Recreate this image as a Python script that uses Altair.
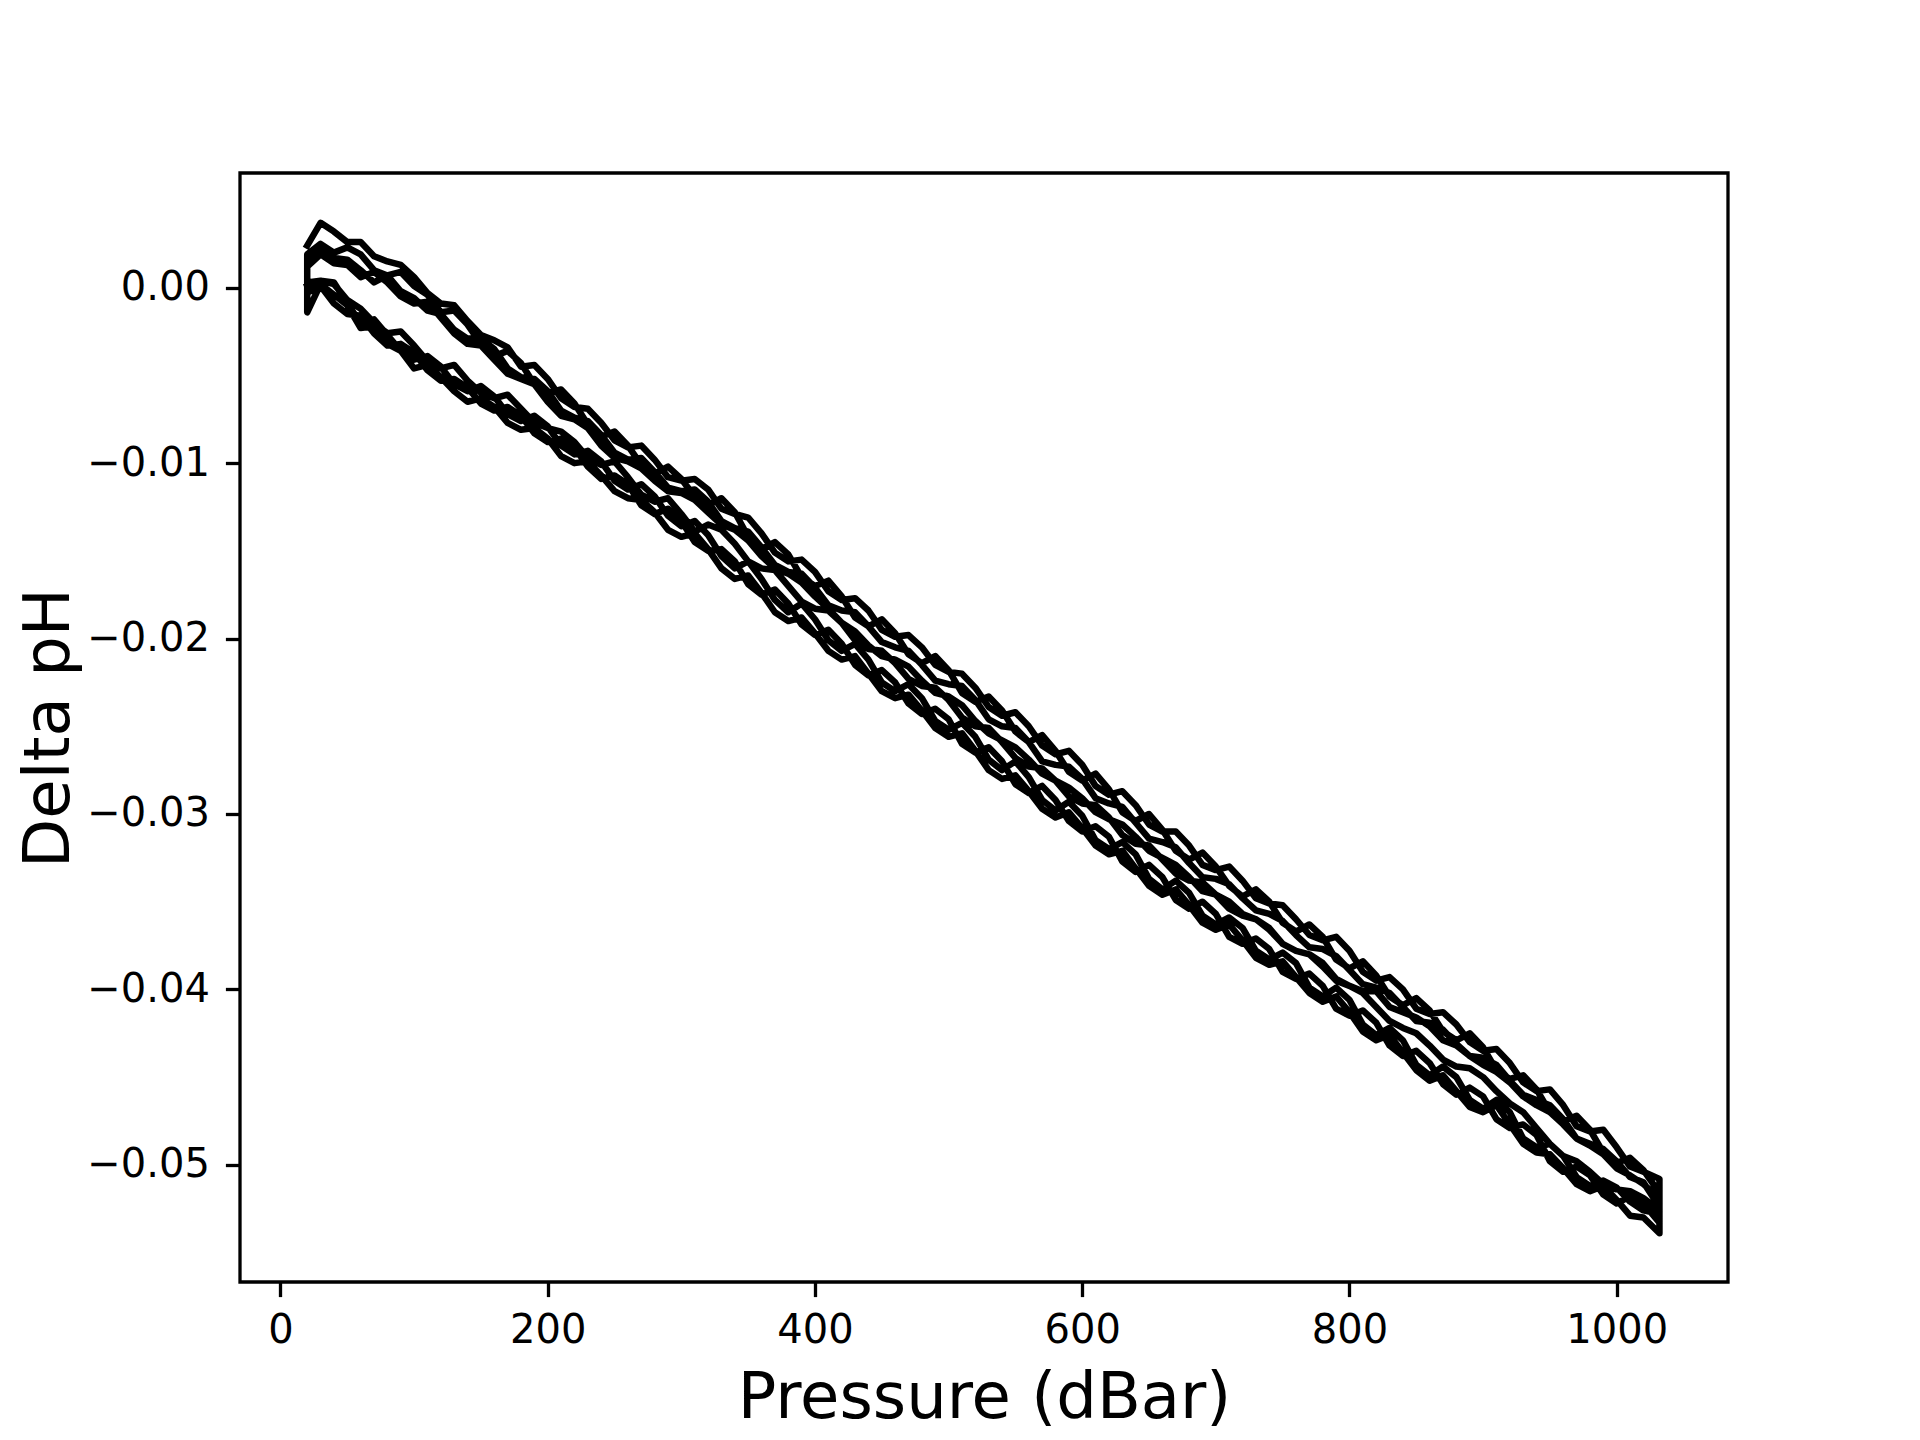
import altair as alt
import pandas as pd

# Pressure grid (dBar) shared by every cast
P_GRID = [20, 30, 40, 50, 60, 70, 80, 90, 100, 110,
          120, 130, 140, 150, 160, 170, 180, 190, 200, 210,
          220, 230, 240, 250, 260, 270, 280, 290, 300, 310,
          320, 330, 340, 350, 360, 370, 380, 390, 400, 410,
          420, 430, 440, 450, 460, 470, 480, 490, 500, 510,
          520, 530, 540, 550, 560, 570, 580, 590, 600, 610,
          620, 630, 640, 650, 660, 670, 680, 690, 700, 710,
          720, 730, 740, 750, 760, 770, 780, 790, 800, 810,
          820, 830, 840, 850, 860, 870, 880, 890, 900, 910,
          920, 930, 940, 950, 960, 970, 980, 990, 1000, 1010,
          1020, 1032]

# Delta pH in units of 0.001 pH (each list follows P_GRID)
DOWN_1 = [2.4, 3.7, 3.2, 2.6, 2.6, 1.8, 1.5, 1.3, 0.6, -0.3,
          -0.9, -1.0, -1.9, -2.7, -3.0, -3.4, -4.5, -4.4, -5.2, -6.3,
          -6.8, -6.9, -7.7, -8.7, -9.1, -9.0, -9.8, -10.8, -11.0, -10.9,
          -11.5, -12.6, -12.9, -13.1, -14.0, -15.1, -15.6, -15.5, -16.2, -17.3,
          -17.8, -17.7, -18.4, -19.5, -19.9, -19.8, -20.5, -21.5, -21.9, -22.0,
          -22.8, -23.9, -24.4, -24.2, -25.0, -26.1, -26.6, -26.4, -27.2, -28.4,
          -28.9, -28.7, -29.5, -30.6, -31.0, -31.0, -31.8, -32.9, -33.2, -33.0,
          -33.8, -34.8, -35.1, -35.2, -36.0, -36.9, -37.2, -37.0, -37.8, -39.0,
          -39.5, -39.3, -40.0, -41.1, -41.4, -41.3, -42.0, -43.0, -43.5, -43.4,
          -44.2, -45.3, -45.8, -45.7, -46.6, -47.8, -48.1, -48.0, -49.0, -50.1,
          -50.4, -50.8]
UP_1 = [-1.4, 0.2, -0.4, -1.0, -2.3, -2.2, -3.2, -3.6, -4.6, -4.4,
        -5.1, -5.9, -6.5, -6.3, -6.8, -7.7, -8.1, -8.0, -8.6, -9.6,
        -10.0, -9.9, -10.7, -11.6, -12.0, -12.1, -12.8, -13.8, -14.2, -14.0,
        -14.9, -16.0, -16.6, -16.4, -17.4, -18.5, -19.0, -18.8, -19.7, -20.7,
        -21.2, -21.0, -22.0, -23.0, -23.4, -23.2, -24.1, -25.1, -25.6, -25.4,
        -26.4, -27.5, -28.0, -27.8, -28.7, -29.7, -30.2, -29.9, -30.8, -31.8,
        -32.3, -32.1, -33.1, -34.1, -34.6, -34.3, -35.2, -36.2, -36.6, -36.3,
        -37.2, -38.2, -38.6, -38.4, -39.3, -40.2, -40.7, -40.4, -41.3, -42.4,
        -42.9, -42.6, -43.6, -44.6, -45.2, -44.9, -45.8, -46.7, -47.0, -46.6,
        -47.7, -48.8, -49.3, -49.4, -50.2, -51.1, -51.5, -51.2, -52.0, -52.9,
        -53.0, -53.9]
DOWN_2 = [1.9, 2.5, 2.0, 2.3, 1.9, 1.0, 0.7, 0.9, 0.1, -0.4,
          -1.4, -1.3, -2.1, -3.2, -3.9, -3.6, -4.3, -5.5, -6.0, -5.8,
          -6.6, -7.8, -8.5, -8.2, -9.0, -10.1, -10.6, -10.2, -10.9, -11.9,
          -12.4, -12.0, -12.8, -14.2, -14.9, -14.5, -15.2, -16.5, -17.0, -16.7,
          -17.6, -18.8, -19.3, -18.9, -19.7, -20.9, -21.4, -21.0, -21.8, -23.1,
          -23.6, -23.3, -24.1, -25.3, -25.9, -25.5, -26.4, -27.6, -28.1, -27.7,
          -28.6, -29.9, -30.4, -30.0, -30.9, -32.1, -32.6, -32.2, -33.0, -34.1,
          -34.7, -34.3, -35.0, -36.2, -36.7, -36.3, -37.0, -38.3, -38.8, -38.4,
          -39.2, -40.4, -40.9, -40.5, -41.2, -42.4, -42.9, -42.5, -43.3, -44.6,
          -45.1, -44.9, -45.7, -47.0, -47.5, -47.2, -48.0, -49.3, -49.9, -49.6,
          -50.3, -51.6]
UP_2 = [0.3, 0.4, 0.2, -0.7, -1.2, -2.0, -2.6, -2.5, -3.3, -4.2,
        -4.6, -4.4, -5.3, -6.0, -6.3, -6.1, -6.9, -7.7, -8.0, -8.2,
        -8.8, -9.7, -10.1, -9.9, -10.8, -11.8, -12.2, -12.0, -12.9, -13.9,
        -13.5, -13.8, -14.6, -15.6, -16.0, -16.1, -17.0, -17.9, -18.3, -18.4,
        -19.1, -20.1, -20.6, -20.7, -21.4, -22.3, -22.7, -22.8, -23.5, -24.5,
        -25.0, -25.1, -25.9, -26.8, -27.3, -27.4, -28.1, -29.0, -29.4, -29.5,
        -30.2, -31.2, -31.7, -31.8, -32.6, -33.4, -33.8, -33.9, -34.6, -35.4,
        -35.8, -36.0, -36.6, -37.4, -37.8, -38.0, -38.7, -39.5, -39.8, -40.2,
        -41.0, -41.8, -42.2, -42.5, -43.2, -44.0, -44.4, -44.5, -45.0, -45.8,
        -46.5, -47.0, -47.9, -48.8, -49.5, -49.8, -50.4, -51.1, -51.4, -51.5,
        -51.9, -52.6]
DOWN_3 = [1.6, 2.1, 1.7, 1.6, 1.0, 0.3, 0.7, -0.2, -0.6, -1.3,
          -1.5, -2.4, -2.9, -2.9, -3.5, -4.6, -5.1, -5.2, -5.9, -7.0,
          -7.4, -7.6, -8.4, -9.4, -9.8, -9.7, -10.5, -11.4, -11.6, -11.5,
          -12.2, -13.3, -13.7, -13.9, -14.8, -15.8, -16.2, -16.3, -17.1, -18.1,
          -18.4, -18.5, -19.3, -20.2, -20.5, -20.7, -21.5, -22.4, -22.6, -22.7,
          -23.5, -24.6, -25.0, -25.1, -25.9, -27.0, -27.2, -27.3, -28.0, -29.1,
          -29.4, -29.6, -30.5, -31.4, -31.6, -31.9, -32.8, -33.6, -33.7, -34.0,
          -34.8, -35.5, -35.7, -36.1, -36.9, -37.6, -37.7, -38.1, -38.9, -39.7,
          -39.9, -40.2, -41.0, -41.8, -41.9, -42.3, -43.1, -43.8, -43.9, -44.3,
          -45.2, -46.0, -46.3, -46.6, -47.4, -48.5, -48.8, -49.1, -49.8, -50.7,
          -51.0, -52.4]
UP_3 = [-0.3, 0.1, -0.9, -1.5, -1.6, -2.6, -3.3, -3.2, -3.7, -4.7,
        -5.3, -5.2, -5.7, -6.6, -7.0, -6.8, -7.3, -8.3, -8.8, -8.6,
        -9.1, -10.2, -10.9, -10.7, -11.2, -12.4, -12.9, -12.6, -13.3, -14.5,
        -15.0, -14.9, -15.6, -16.9, -17.5, -17.2, -18.0, -19.2, -19.8, -19.5,
        -20.3, -21.5, -22.1, -21.8, -22.5, -23.7, -24.3, -24.0, -24.6, -26.0,
        -26.5, -26.2, -27.0, -28.3, -28.8, -28.4, -29.2, -30.4, -31.0, -30.7,
        -31.3, -32.7, -33.3, -32.9, -33.6, -34.9, -35.4, -35.0, -35.7, -37.0,
        -37.4, -37.1, -37.7, -39.0, -39.4, -39.1, -39.8, -41.1, -41.5, -41.2,
        -41.9, -43.2, -43.8, -43.5, -44.2, -45.4, -46.0, -45.6, -46.1, -47.4,
        -47.9, -47.7, -48.3, -49.8, -50.4, -50.1, -50.6, -51.7, -52.2, -51.8,
        -52.2, -53.3]
DOWN_4 = [1.2, 1.9, 1.4, 1.3, 0.6, 0.9, 0.3, -0.5, -0.9, -0.8,
          -1.7, -2.6, -3.2, -3.3, -4.1, -4.9, -5.2, -5.5, -6.5, -7.3,
          -7.5, -8.0, -9.0, -9.7, -9.9, -10.3, -11.0, -11.6, -11.7, -12.1,
          -12.8, -13.5, -13.8, -14.4, -15.3, -16.0, -16.3, -16.8, -17.6, -18.3,
          -19.1, -19.6, -20.4, -21.0, -21.2, -21.6, -22.4, -23.1, -23.3, -23.8,
          -24.7, -25.4, -25.8, -26.2, -26.9, -27.7, -28.1, -28.5, -29.1, -29.9,
          -30.3, -30.6, -31.3, -32.1, -32.5, -32.9, -33.6, -34.4, -34.6, -35.0,
          -35.7, -36.0, -36.5, -37.4, -37.8, -38.0, -38.5, -39.4, -39.8, -40.1,
          -40.1, -41.0, -41.3, -41.6, -42.1, -42.9, -43.2, -43.8, -44.3, -44.7,
          -45.3, -46.1, -46.6, -47.0, -47.7, -48.5, -48.9, -49.4, -50.2, -50.6,
          -51.1, -51.9]
UP_4 = [0.1, 0.4, 0.3, -0.9, -2.0, -1.8, -2.7, -3.6, -4.1, -3.9,
        -4.5, -5.5, -5.9, -5.6, -6.2, -7.2, -7.6, -7.3, -7.9, -9.0,
        -9.5, -9.3, -9.9, -11.0, -11.5, -11.2, -11.9, -13.0, -13.6, -13.3,
        -14.1, -15.3, -16.0, -15.6, -16.6, -17.8, -18.5, -18.0, -18.9, -20.1,
        -20.7, -20.3, -21.2, -22.5, -23.0, -22.6, -23.4, -24.7, -25.2, -24.8,
        -25.6, -26.9, -27.5, -27.0, -27.9, -29.2, -29.8, -29.3, -30.1, -31.5,
        -32.0, -31.6, -32.3, -33.7, -34.3, -33.8, -34.5, -35.8, -36.3, -35.9,
        -36.5, -37.8, -38.3, -37.9, -38.5, -39.9, -40.4, -39.9, -40.6, -42.0,
        -42.6, -42.2, -42.9, -44.3, -44.9, -44.4, -45.0, -46.3, -46.8, -46.3,
        -47.0, -48.5, -49.0, -48.8, -49.5, -50.7, -51.2, -50.9, -51.3, -52.1,
        -52.6, -52.8]

X_TICKS = [0, 200, 400, 600, 800, 1000]
Y_TICKS = [0.0, -0.01, -0.02, -0.03, -0.04, -0.05]

# One continuous record: down cast then up cast, repeated
rows = []
seq = 0
for down, up in [(DOWN_1, UP_1), (DOWN_2, UP_2), (DOWN_3, UP_3), (DOWN_4, UP_4)]:
    for p, v in zip(P_GRID, down):
        rows.append({"p": p, "dph": v / 1000.0, "i": seq}); seq += 1
    for p, v in zip(list(reversed(P_GRID)), list(reversed(up))):
        rows.append({"p": p, "dph": v / 1000.0, "i": seq}); seq += 1
df = pd.DataFrame(rows)

FONT = "DejaVu Sans"

chart = alt.Chart(df).mark_line(
    color="black", strokeWidth=6.5, strokeJoin="round", strokeCap="square"
).encode(
    x=alt.X("p:Q",
            scale=alt.Scale(domain=[-30.3, 1083.3], nice=False, zero=False),
            axis=alt.Axis(values=X_TICKS, format="d", title="Pressure (dBar)",
                          labelPadding=14, titleY=135, titleBaseline="alphabetic")),
    y=alt.Y("dph:Q",
            scale=alt.Scale(domain=[-0.05668, 0.00654], nice=False, zero=False),
            axis=alt.Axis(values=Y_TICKS, format=".2f", title="Delta pH",
                          labelPadding=16, titleX=-172, titleY=554.5, titleAngle=270,
                          titleAlign="center", titleBaseline="alphabetic")),
    order=alt.Order("i:Q"),
).properties(
    width=1488, height=1109,
    autosize=alt.AutoSizeParams(type="none"),
    padding={"left": 232, "top": 165, "right": 184, "bottom": 150},
    background="white",
).configure_view(
    stroke="black", strokeWidth=3.3, fill="white"
).configure_axis(
    domain=False, grid=False,
    ticks=True, tickColor="black", tickWidth=3.3, tickSize=14.6,
    labelFont=FONT, labelFontSize=40, labelColor="black",
    titleFont=FONT, titleFontSize=64, titleFontWeight="normal", titleColor="black",
    labelFlush=False, labelOverlap=False,
)

chart.save("out.html", embed_options={"renderer": "svg", "actions": False})
